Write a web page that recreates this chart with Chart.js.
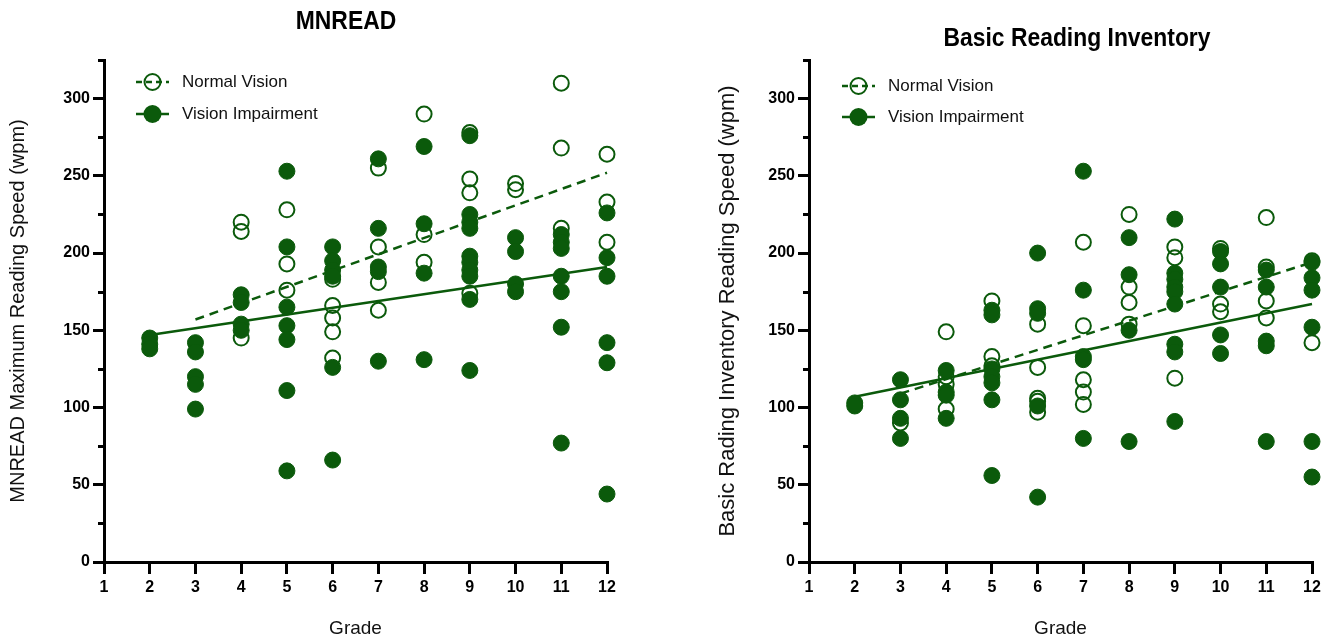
<!DOCTYPE html>
<html>
<head>
<meta charset="utf-8">
<script src="https://cdn.jsdelivr.net/npm/chart.js@4.4.1/dist/chart.umd.min.js"></script>
<style>
  body { margin: 0; background: #fff; width: 1333px; height: 642px; position: relative; overflow: hidden;
         font-family: 'Liberation Sans', Arial, sans-serif; }
  canvas { position: absolute; top: 0; }
  .title { position: absolute; transform: translate(-50%, -50%) scaleX(0.88); white-space: nowrap; font-weight: bold;
           font-family: 'Liberation Sans', Arial, sans-serif; font-size: 26px; color: #000; }
  .legend { position: absolute; font-size: 17px; color: #111; }
  .legend div { display: flex; align-items: center; }
  .legend svg { margin-right: 13px; }
</style>
</head>
<body>
<canvas id="mnread" width="666" height="642" style="left:0"></canvas>
<canvas id="bri" width="667" height="642" style="left:666px"></canvas>

<div class="title" style="left:346px; top:20px">MNREAD</div>
<div class="title" style="left:1077px; top:37px">Basic Reading Inventory</div>

<div class="legend" style="left:136px; top:66px">
  <div style="height:32px"><svg width="33" height="20"><line x1="0" y1="10" x2="33" y2="10" stroke="#0b5a0b" stroke-width="2.5" stroke-dasharray="6,4"/><circle cx="16.5" cy="10" r="8" fill="none" stroke="#0b5a0b" stroke-width="2"/></svg>Normal Vision</div>
  <div style="height:32px"><svg width="33" height="20"><line x1="0" y1="10" x2="33" y2="10" stroke="#0b5a0b" stroke-width="2.5"/><circle cx="16.5" cy="10" r="9" fill="#0b5a0b"/></svg>Vision Impairment</div>
</div>
<div class="legend" style="left:842px; top:70px">
  <div style="height:31px"><svg width="33" height="20"><line x1="0" y1="10" x2="33" y2="10" stroke="#0b5a0b" stroke-width="2.5" stroke-dasharray="6,4"/><circle cx="16.5" cy="10" r="8" fill="none" stroke="#0b5a0b" stroke-width="2"/></svg>Normal Vision</div>
  <div style="height:31px"><svg width="33" height="20"><line x1="0" y1="10" x2="33" y2="10" stroke="#0b5a0b" stroke-width="2.5"/><circle cx="16.5" cy="10" r="9" fill="#0b5a0b"/></svg>Vision Impairment</div>
</div>

<script>
// [grade, wpm]
const mnreadNormal = [
  [4,220],[4,214],[4,145],
  [5,228],[5,193],[5,176],
  [6,183],[6,166],[6,158],[6,149],[6,132],
  [7,255],[7,204],[7,181],[7,163],
  [8,290],[8,212],[8,194],
  [9,278],[9,248],[9,239],[9,174],
  [10,245],[10,241],
  [11,310],[11,268],[11,216],
  [12,264],[12,233],[12,207]
];
const mnreadImpaired = [
  [2,145],[2,141],[2,138],
  [3,142],[3,136],[3,120],[3,115],[3,99],
  [4,173],[4,168],[4,154],[4,150],
  [5,253],[5,204],[5,165],[5,153],[5,144],[5,111],[5,59],
  [6,204],[6,195],[6,189],[6,185],[6,126],[6,66],
  [7,261],[7,216],[7,191],[7,188],[7,130],
  [8,269],[8,219],[8,187],[8,131],
  [9,276],[9,225],[9,220],[9,216],[9,198],[9,194],[9,189],[9,185],[9,170],[9,124],
  [10,210],[10,201],[10,180],[10,175],
  [11,212],[11,207],[11,203],[11,185],[11,175],[11,152],[11,77],
  [12,226],[12,197],[12,185],[12,142],[12,129],[12,44]
];
const mnreadNormalFit = [[3,157],[12,252]];
const mnreadImpairedFit = [[2,147],[12,191]];

const briNormal = [
  [3,90],
  [4,149],[4,120],[4,115],[4,99],
  [5,169],[5,133],[5,127],
  [6,154],[6,126],[6,106],[6,104],[6,97],
  [7,207],[7,153],[7,118],[7,110],[7,102],
  [8,225],[8,178],[8,168],[8,154],
  [9,204],[9,197],[9,119],
  [10,203],[10,167],[10,162],
  [11,223],[11,191],[11,169],[11,158],
  [12,195],[12,142]
];
const briImpaired = [
  [2,103],[2,101],
  [3,118],[3,105],[3,93],[3,80],
  [4,124],[4,110],[4,108],[4,93],
  [5,163],[5,160],[5,125],[5,120],[5,116],[5,105],[5,56],
  [6,200],[6,164],[6,161],[6,101],[6,42],
  [7,253],[7,176],[7,133],[7,131],[7,80],
  [8,210],[8,186],[8,150],[8,78],
  [9,222],[9,187],[9,183],[9,178],[9,175],[9,167],[9,141],[9,136],[9,91],
  [10,201],[10,193],[10,178],[10,147],[10,135],
  [11,189],[11,178],[11,143],[11,140],[11,78],
  [12,194],[12,184],[12,176],[12,152],[12,78],[12,55]
];
const briNormalFit = [[3,109],[12,194]];
const briImpairedFit = [[2,107],[12,167]];

const green = '#0b5a0b';
const fontFamily = "'Liberation Sans', Arial, sans-serif";

const pts = arr => arr.map(p => ({x: p[0], y: p[1]}));

// short ticks every 25 wpm between the labelled ones
const minorTicks = {
  id: 'minorTicks',
  afterDraw(chart) {
    const s = chart.scales.y, c = chart.ctx;
    c.save();
    c.strokeStyle = '#000';
    c.lineWidth = 3;
    s.ticks.forEach(t => {
      if (t.value % 50 !== 0) {
        const y = Math.round(s.getPixelForValue(t.value)) + 0.5;
        c.beginPath(); c.moveTo(s.right - 6, y); c.lineTo(s.right, y); c.stroke();
      }
    });
    c.restore();
  }
};

function makeChart(id, yTitle, yTitleSize, yTitlePad, normal, impaired, normalFit, impairedFit, areaLeft, areaRight) {
  const canvas = document.getElementById(id);
  return new Chart(canvas.getContext('2d'), {
    type: 'scatter',
    data: {
      datasets: [
        {
          label: 'Vision Impairment', data: pts(impaired), clip: false,
          backgroundColor: green, borderColor: green, borderWidth: 1,
          pointRadius: 8, order: 1
        },
        {
          label: 'Normal Vision', data: pts(normal), clip: false,
          backgroundColor: 'rgba(0,0,0,0)', borderColor: green, borderWidth: 2,
          pointRadius: 7.5, order: 2
        },
        {
          label: 'VI fit', data: pts(impairedFit), showLine: true, clip: false,
          borderColor: green, borderWidth: 2.5, pointRadius: 0, order: 3
        },
        {
          label: 'NV fit', data: pts(normalFit), showLine: true, clip: false,
          borderColor: green, borderWidth: 2.5, borderDash: [9, 6], pointRadius: 0, order: 4
        }
      ]
    },
    options: {
      responsive: false,
      animation: false,
      layout: { padding: { top: 60, left: 0, right: canvas.width - areaRight, bottom: 0 } },
      plugins: { legend: { display: false }, tooltip: { enabled: false } },
      scales: {
        x: {
          type: 'linear', min: 1, max: 12,
          afterFit: s => { s.height = 80; },
          ticks: { stepSize: 1, autoSkip: false, maxRotation: 0, padding: 4, color: '#000',
                   font: { family: fontFamily, size: 16, weight: 'bold' } },
          grid: { drawOnChartArea: false, tickLength: 12, lineWidth: 3, color: '#000' },
          border: { display: true, width: 3, color: '#000' },
          title: { display: true, text: 'Grade', color: '#111',
                   font: { family: fontFamily, size: 19 }, padding: { top: 0, bottom: 2 } }
        },
        y: {
          min: 0, max: 325,
          afterFit: s => { s.width = areaLeft; },
          ticks: { stepSize: 25, autoSkip: false, padding: 3, color: '#000',
                   callback: v => v % 50 === 0 ? v : '',
                   font: { family: fontFamily, size: 16, weight: 'bold' } },
          grid: { drawOnChartArea: false, tickLength: 11, lineWidth: 3,
                  color: c => (c.tick && c.tick.value % 50 !== 0) ? 'rgba(0,0,0,0)' : '#000' },
          border: { display: true, width: 3, color: '#000' },
          title: { display: true, text: yTitle, color: '#111',
                   font: { family: fontFamily, size: yTitleSize }, padding: { top: yTitlePad, bottom: 0 } }
        }
      }
    },
    plugins: [minorTicks]
  });
}

makeChart('mnread', 'MNREAD Maximum Reading Speed (wpm)', 20, 6,
  mnreadNormal, mnreadImpaired, mnreadNormalFit, mnreadImpairedFit, 104, 607);
makeChart('bri', 'Basic Rading Inventory Reading Speed (wpm)', 22, 49,
  briNormal, briImpaired, briNormalFit, briImpairedFit, 143, 646);
</script>
</body>
</html>
